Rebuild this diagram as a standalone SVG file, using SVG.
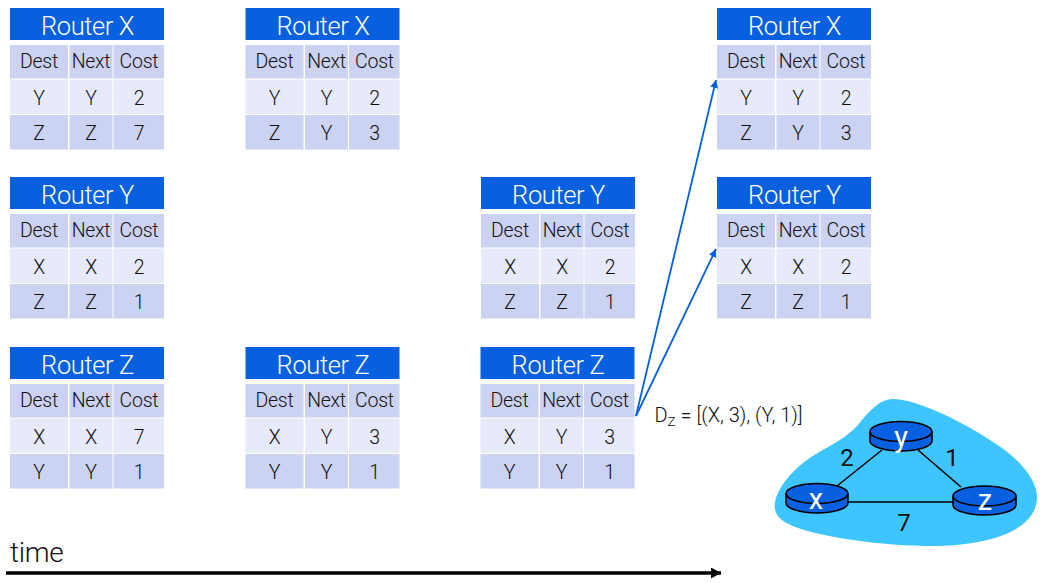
<svg xmlns="http://www.w3.org/2000/svg" xmlns:xlink="http://www.w3.org/1999/xlink" width="1042" height="583" viewBox="0 0 1042 583">
<style>
text{font-family:"Roboto","Liberation Sans",sans-serif;font-weight:300;fill:#111}
.h{fill:#0760e0}.a{fill:#cbd2f2}.b{fill:#e7eafa}
.t{font-size:25.500px;letter-spacing:-.4px;fill:#fff;text-anchor:middle}
.c{font-size:19.500px;letter-spacing:-.25px;text-anchor:middle}
.w{fill:#fff;font-size:29px;font-weight:400;text-anchor:middle}
.n{font-size:24px;font-weight:400;text-anchor:middle}
.r{fill:#0760e0;stroke:#000;stroke-width:1.6}
.l{stroke:#000;stroke-width:1.6;fill:none}
.s{stroke:#0760e0;stroke-width:1.8;fill:none}
</style>
<defs>
<marker id="ab" markerUnits="userSpaceOnUse" markerWidth="9" markerHeight="9" refX="8" refY="4" orient="auto"><path d="M0 0L8 4L0 8Z" fill="#0760e0"/></marker>
<marker id="ak" markerUnits="userSpaceOnUse" markerWidth="12" markerHeight="12" refX="10" refY="5.5" orient="auto"><path d="M0 0L10 5.500L0 11Z" fill="#000"/></marker>
<g id="grid">
<rect class="h" width="154" height="32"/>
<rect class="a" y="37" width="58" height="33.500"/><rect class="a" x="59.500" y="37" width="43" height="33.500"/><rect class="a" x="103.500" y="37" width="50.500" height="33.500"/>
<rect class="b" y="71.500" width="58" height="34.500"/><rect class="b" x="59.500" y="71.500" width="43" height="34.500"/><rect class="b" x="103.500" y="71.500" width="50.500" height="34.500"/>
<rect class="a" y="107" width="58" height="34.500"/><rect class="a" x="59.500" y="107" width="43" height="34.500"/><rect class="a" x="103.500" y="107" width="50.500" height="34.500"/>
<text class="c" x="29" y="60.300">Dest</text><text class="c" x="81" y="60.300">Next</text><text class="c" x="129" y="60.300">Cost</text>
</g>
</defs>
<g id="x1" transform="translate(10 8)"><use xlink:href="#grid"/><text class="t" x="77.500" y="27">Router X</text><text class="c" x="29" y="96.500">Y</text><text class="c" x="81" y="96.500">Y</text><text class="c" x="129" y="96.500">2</text><text class="c" x="29" y="132">Z</text><text class="c" x="81" y="132">Z</text><text class="c" x="129" y="132">7</text></g>
<g id="x2" transform="translate(245.500 8)"><use xlink:href="#grid"/><text class="t" x="77.500" y="27">Router X</text><text class="c" x="29" y="96.500">Y</text><text class="c" x="81" y="96.500">Y</text><text class="c" x="129" y="96.500">2</text><text class="c" x="29" y="132">Z</text><text class="c" x="81" y="132">Y</text><text class="c" x="129" y="132">3</text></g>
<g id="x3" transform="translate(717 8)"><use xlink:href="#grid"/><text class="t" x="77.500" y="27">Router X</text><text class="c" x="29" y="96.500">Y</text><text class="c" x="81" y="96.500">Y</text><text class="c" x="129" y="96.500">2</text><text class="c" x="29" y="132">Z</text><text class="c" x="81" y="132">Y</text><text class="c" x="129" y="132">3</text></g>
<g id="y1" transform="translate(10 177)"><use xlink:href="#grid"/><text class="t" x="77.500" y="27">Router Y</text><text class="c" x="29" y="96.500">X</text><text class="c" x="81" y="96.500">X</text><text class="c" x="129" y="96.500">2</text><text class="c" x="29" y="132">Z</text><text class="c" x="81" y="132">Z</text><text class="c" x="129" y="132">1</text></g>
<g id="y2" transform="translate(481 177)"><use xlink:href="#grid"/><text class="t" x="77.500" y="27">Router Y</text><text class="c" x="29" y="96.500">X</text><text class="c" x="81" y="96.500">X</text><text class="c" x="129" y="96.500">2</text><text class="c" x="29" y="132">Z</text><text class="c" x="81" y="132">Z</text><text class="c" x="129" y="132">1</text></g>
<g id="y3" transform="translate(717 177)"><use xlink:href="#grid"/><text class="t" x="77.500" y="27">Router Y</text><text class="c" x="29" y="96.500">X</text><text class="c" x="81" y="96.500">X</text><text class="c" x="129" y="96.500">2</text><text class="c" x="29" y="132">Z</text><text class="c" x="81" y="132">Z</text><text class="c" x="129" y="132">1</text></g>
<g id="z1" transform="translate(10 347)"><use xlink:href="#grid"/><text class="t" x="77.500" y="27">Router Z</text><text class="c" x="29" y="96.500">X</text><text class="c" x="81" y="96.500">X</text><text class="c" x="129" y="96.500">7</text><text class="c" x="29" y="132">Y</text><text class="c" x="81" y="132">Y</text><text class="c" x="129" y="132">1</text></g>
<g id="z2" transform="translate(245.500 347)"><use xlink:href="#grid"/><text class="t" x="77.500" y="27">Router Z</text><text class="c" x="29" y="96.500">X</text><text class="c" x="81" y="96.500">Y</text><text class="c" x="129" y="96.500">3</text><text class="c" x="29" y="132">Y</text><text class="c" x="81" y="132">Y</text><text class="c" x="129" y="132">1</text></g>
<g id="z3" transform="translate(480.500 347)"><use xlink:href="#grid"/><text class="t" x="77.500" y="27">Router Z</text><text class="c" x="29" y="96.500">X</text><text class="c" x="81" y="96.500">Y</text><text class="c" x="129" y="96.500">3</text><text class="c" x="29" y="132">Y</text><text class="c" x="81" y="132">Y</text><text class="c" x="129" y="132">1</text></g>
<text id="msg" x="654.500" y="421.500" style="font-size:20px">D<tspan style="font-size:13.500px" dy="4">Z</tspan><tspan dy="-4"> = [(X, 3), (Y, 1)]</tspan></text>
<g id="net">
<path d="M893 399C915 399 960 420 990 440C1020 458 1037 480 1037 497C1037 530 990 546 930 546C880 546 800 535 782 520C768 510 775 490 795 470C815 450 840 445 858 425C870 410 880 399 893 399Z" fill="#3ec5fd"/>
<path class="l" d="M882 450L837 486M918 450L961 487M848 502L953 502"/>
<g id="rx"><path class="r" d="M786 493.500V503C786 508.500 800 513 817 513S848 508.500 848 503V493.500"/><ellipse class="r" cx="817" cy="493.500" rx="31" ry="10"/><text class="w" x="816" y="509">x</text></g>
<g id="ry"><path class="r" d="M870 431.500V441C870 446.500 884 451 901 451S932 446.500 932 441V431.500"/><ellipse class="r" cx="901" cy="431.500" rx="31" ry="10"/><text class="w" x="901" y="447">y</text></g>
<g id="rz"><path class="r" d="M953 496V505C953 510.500 967 515 984.500 515S1016 510.500 1016 505V496"/><ellipse class="r" cx="984.500" cy="496" rx="31.500" ry="10"/><text class="w" x="985" y="510">z</text></g>
<text class="n" x="847" y="466">2</text><text class="n" x="952" y="466">1</text><text class="n" x="904" y="531">7</text>
</g>
<g id="connectors">
<path class="s" d="M636 416L716 80" marker-end="url(#ab)"/>
<path class="s" d="M636 416L716 249" marker-end="url(#ab)"/>
<path stroke="#000" stroke-width="3.500" fill="none" d="M6 573H721" marker-end="url(#ak)"/>
</g>
<text id="time" x="10" y="562" style="font-size:28px;letter-spacing:-.3px">time</text>
</svg>
